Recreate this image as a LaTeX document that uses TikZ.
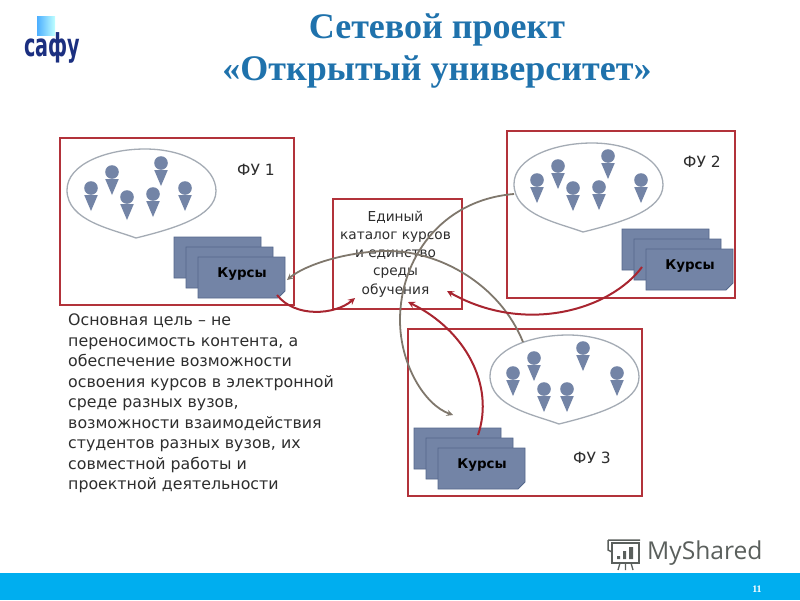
\documentclass[tikz,border=0pt]{standalone}
\usepackage{fontspec}
\usepackage{xcolor}
\setmainfont{DejaVu Sans}
\newfontfamily\titlefont{Liberation Serif}
\newfontfamily\brandfont{Open Sans}

\definecolor{boxred}{HTML}{B2323A}
\definecolor{arrowred}{HTML}{A82530}
\definecolor{arrowgray}{HTML}{7F776C}
\definecolor{sheetblue}{HTML}{7384A6}
\definecolor{sheetline}{HTML}{54678C}
\definecolor{titleblue}{HTML}{1F72AC}
\definecolor{barblue}{HTML}{00AEEF}
\definecolor{bubbleline}{HTML}{A4ABB4}
\definecolor{logoblue}{HTML}{1B2F80}
\definecolor{textgray}{HTML}{2E2E2E}
\definecolor{brandgray}{HTML}{5A5F5C}

\tikzset{
  framebox/.style={draw=boxred,line width=2pt,fill=white},
  redarrow/.style={-stealth,draw=arrowred,line width=2pt},
  grayarrow/.style={-stealth,draw=arrowgray,line width=1.8pt},
  sheet/.style={draw=sheetline,fill=sheetblue,line width=0.8pt},
  label/.style={inner sep=0pt,text=textgray},
}

% head and cone of one student
\newcommand{\student}[2]{
  \fill[sheetblue] (#1-6.8,#2+7) -- (#1+6.8,#2+7) -- (#1,#2+23) -- cycle;
  \fill[sheetblue] (#1,#2) circle (6.8);
}
% speech bubble, given by its left and top edge
\newcommand{\bubble}[2]{
  \draw[bubbleline,line width=1.3pt,fill=white,shift={(#1,#2)}] (69,89)
    .. controls (45,80) and (0,72) .. (0,41)
    .. controls (0,15) and (40,0) .. (78,0)
    .. controls (118,0) and (149,18) .. (149,42)
    .. controls (149,68) and (105,80) .. (69,89) -- cycle;
}
% one sheet with a folded corner
\newcommand{\onesheet}[2]{
  \draw[sheet,shift={(#1,#2)}] (0,0) -- (87,0) -- (87,34) -- (80,41) -- (0,41) -- cycle;
}
\newcommand{\coursestack}[3]{
  \onesheet{#1}{#2}
  \onesheet{#1+12}{#2+10}
  \onesheet{#1+24}{#2+20}
  \node[inner sep=0pt,font=\bfseries\fontsize{13.4}{13.4}\selectfont,text=black] (#3) at (#1+68,#2+37) {Курсы};
}

\begin{document}
\begin{tikzpicture}[x=1pt,y=-1pt]
  \useasboundingbox (0,0) rectangle (800,600);

  % bottom bar
  \fill[barblue] (0,573) rectangle (800,600);
  \node[inner sep=0pt,text=white,font=\titlefont\bfseries\fontsize{10}{10}\selectfont] (pagenr) at (757,589) {11};

  % logo
  \fill[left color=blue!45!cyan!70,right color=cyan!25] (37,16) rectangle (55,35);
  \node[inner sep=0pt,text=logoblue,font=\bfseries\fontsize{30}{30}\selectfont,xscale=0.64,yscale=1.05] (logo) at (52,48) {сафу};

  % title
  \node[inner sep=0pt,text=titleblue,font=\titlefont\bfseries\fontsize{36}{36}\selectfont] (titleone) at (437,30) {Сетевой проект};
  \node[inner sep=0pt,text=titleblue,font=\titlefont\bfseries\fontsize{36}{36}\selectfont] (titletwo) at (437,72) {«Открытый университет»};

  % frames
  \draw[framebox] (60,138) rectangle (294,305);
  \draw[framebox] (507,131) rectangle (735,298);
  \draw[framebox] (408,329) rectangle (642,496);
  \draw[framebox] (333,199) rectangle (462,309);

  % university 1
  \bubble{67}{149}
  \student{91}{188}
  \student{112}{172}
  \student{127}{197}
  \student{153}{194}
  \student{161}{163}
  \student{185}{188}
  \coursestack{174}{237}{coursesone}
  \node[label,font=\fontsize{15.5}{15.5}\selectfont] (fuone) at (256,170) {ФУ 1};

  % university 2
  \bubble{514}{143}
  \student{537}{180}
  \student{558}{166}
  \student{573}{188}
  \student{599}{187}
  \student{608}{156}
  \student{641}{180}
  \coursestack{622}{229}{coursestwo}
  \node[label,font=\fontsize{15.5}{15.5}\selectfont] (futwo) at (702,162) {ФУ 2};

  % university 3
  \bubble{490}{335}
  \student{513}{373}
  \student{534}{358}
  \student{544}{389}
  \student{567}{389}
  \student{583}{348}
  \student{617}{373}
  \coursestack{414}{428}{coursesthree}
  \node[label,font=\fontsize{15.5}{15.5}\selectfont] (futhree) at (592,458) {ФУ 3};

  % catalogue
  \node[label,align=center,font=\fontsize{13.7}{18.2}\selectfont] (catalog) at (395.5,254) {Единый\\каталог курсов\\и единство\\среды\\обучения};

  % goal text
  \node[label,anchor=north west,align=left,font=\fontsize{15.8}{20.5}\selectfont] (goal) at (68,314) {Основная цель -- не\\переносимость контента, а\\обеспечение возможности\\освоения курсов  в электронной\\среде разных вузов,\\возможности взаимодействия\\студентов разных вузов, их\\совместной работы и\\проектной деятельности};

  % ends of the arrows
  \coordinate (grayonestart) at (523,342);
  \coordinate (grayoneend) at (287,280);
  \coordinate (graytwostart) at (514,194);
  \coordinate (graytwoend) at (453,415);
  \coordinate (redonestart) at (277,295);
  \coordinate (redoneend) at (355,298);
  \coordinate (redtwostart) at (642,267);
  \coordinate (redtwoend) at (447,291);
  \coordinate (redthreestart) at (478,435);
  \coordinate (redthreeend) at (408,302);

  % arrows
  \draw[grayarrow] (grayonestart) .. controls (500,285) and (440,250) .. (385,251) .. controls (345,252) and (305,265) .. (grayoneend);
  \draw[grayarrow] (graytwostart) .. controls (440,200) and (400,260) .. (400,320) .. controls (400,365) and (425,405) .. (graytwoend);
  \draw[redarrow] (redonestart) .. controls (295,318) and (335,315) .. (redoneend);
  \draw[redarrow] (redtwostart) .. controls (610,310) and (525,335) .. (redtwoend);
  \draw[redarrow] (redthreestart) .. controls (495,385) and (465,330) .. (redthreeend);

  % logo of the site
  \draw[brandgray,line width=1.5pt] (612,543) rectangle (639,563);
  \draw[brandgray,line width=1.5pt] (608,540) -- (640,540) (608,540) -- (608,550) -- (612,552);
  \draw[brandgray,line width=1.3pt] (618,570) -- (620,563) (633,570) -- (631,563) (625.5,570) -- (625.5,563);
  \fill[brandgray] (617,556) rectangle (620,559) (623,551) rectangle (626,559) (629,547) rectangle (633,559);
  \node[inner sep=0pt,anchor=west,text=brandgray,font=\brandfont\fontsize{24.6}{24.6}\selectfont] (brand) at (647,553) {MyShared};
\end{tikzpicture}
\end{document}
